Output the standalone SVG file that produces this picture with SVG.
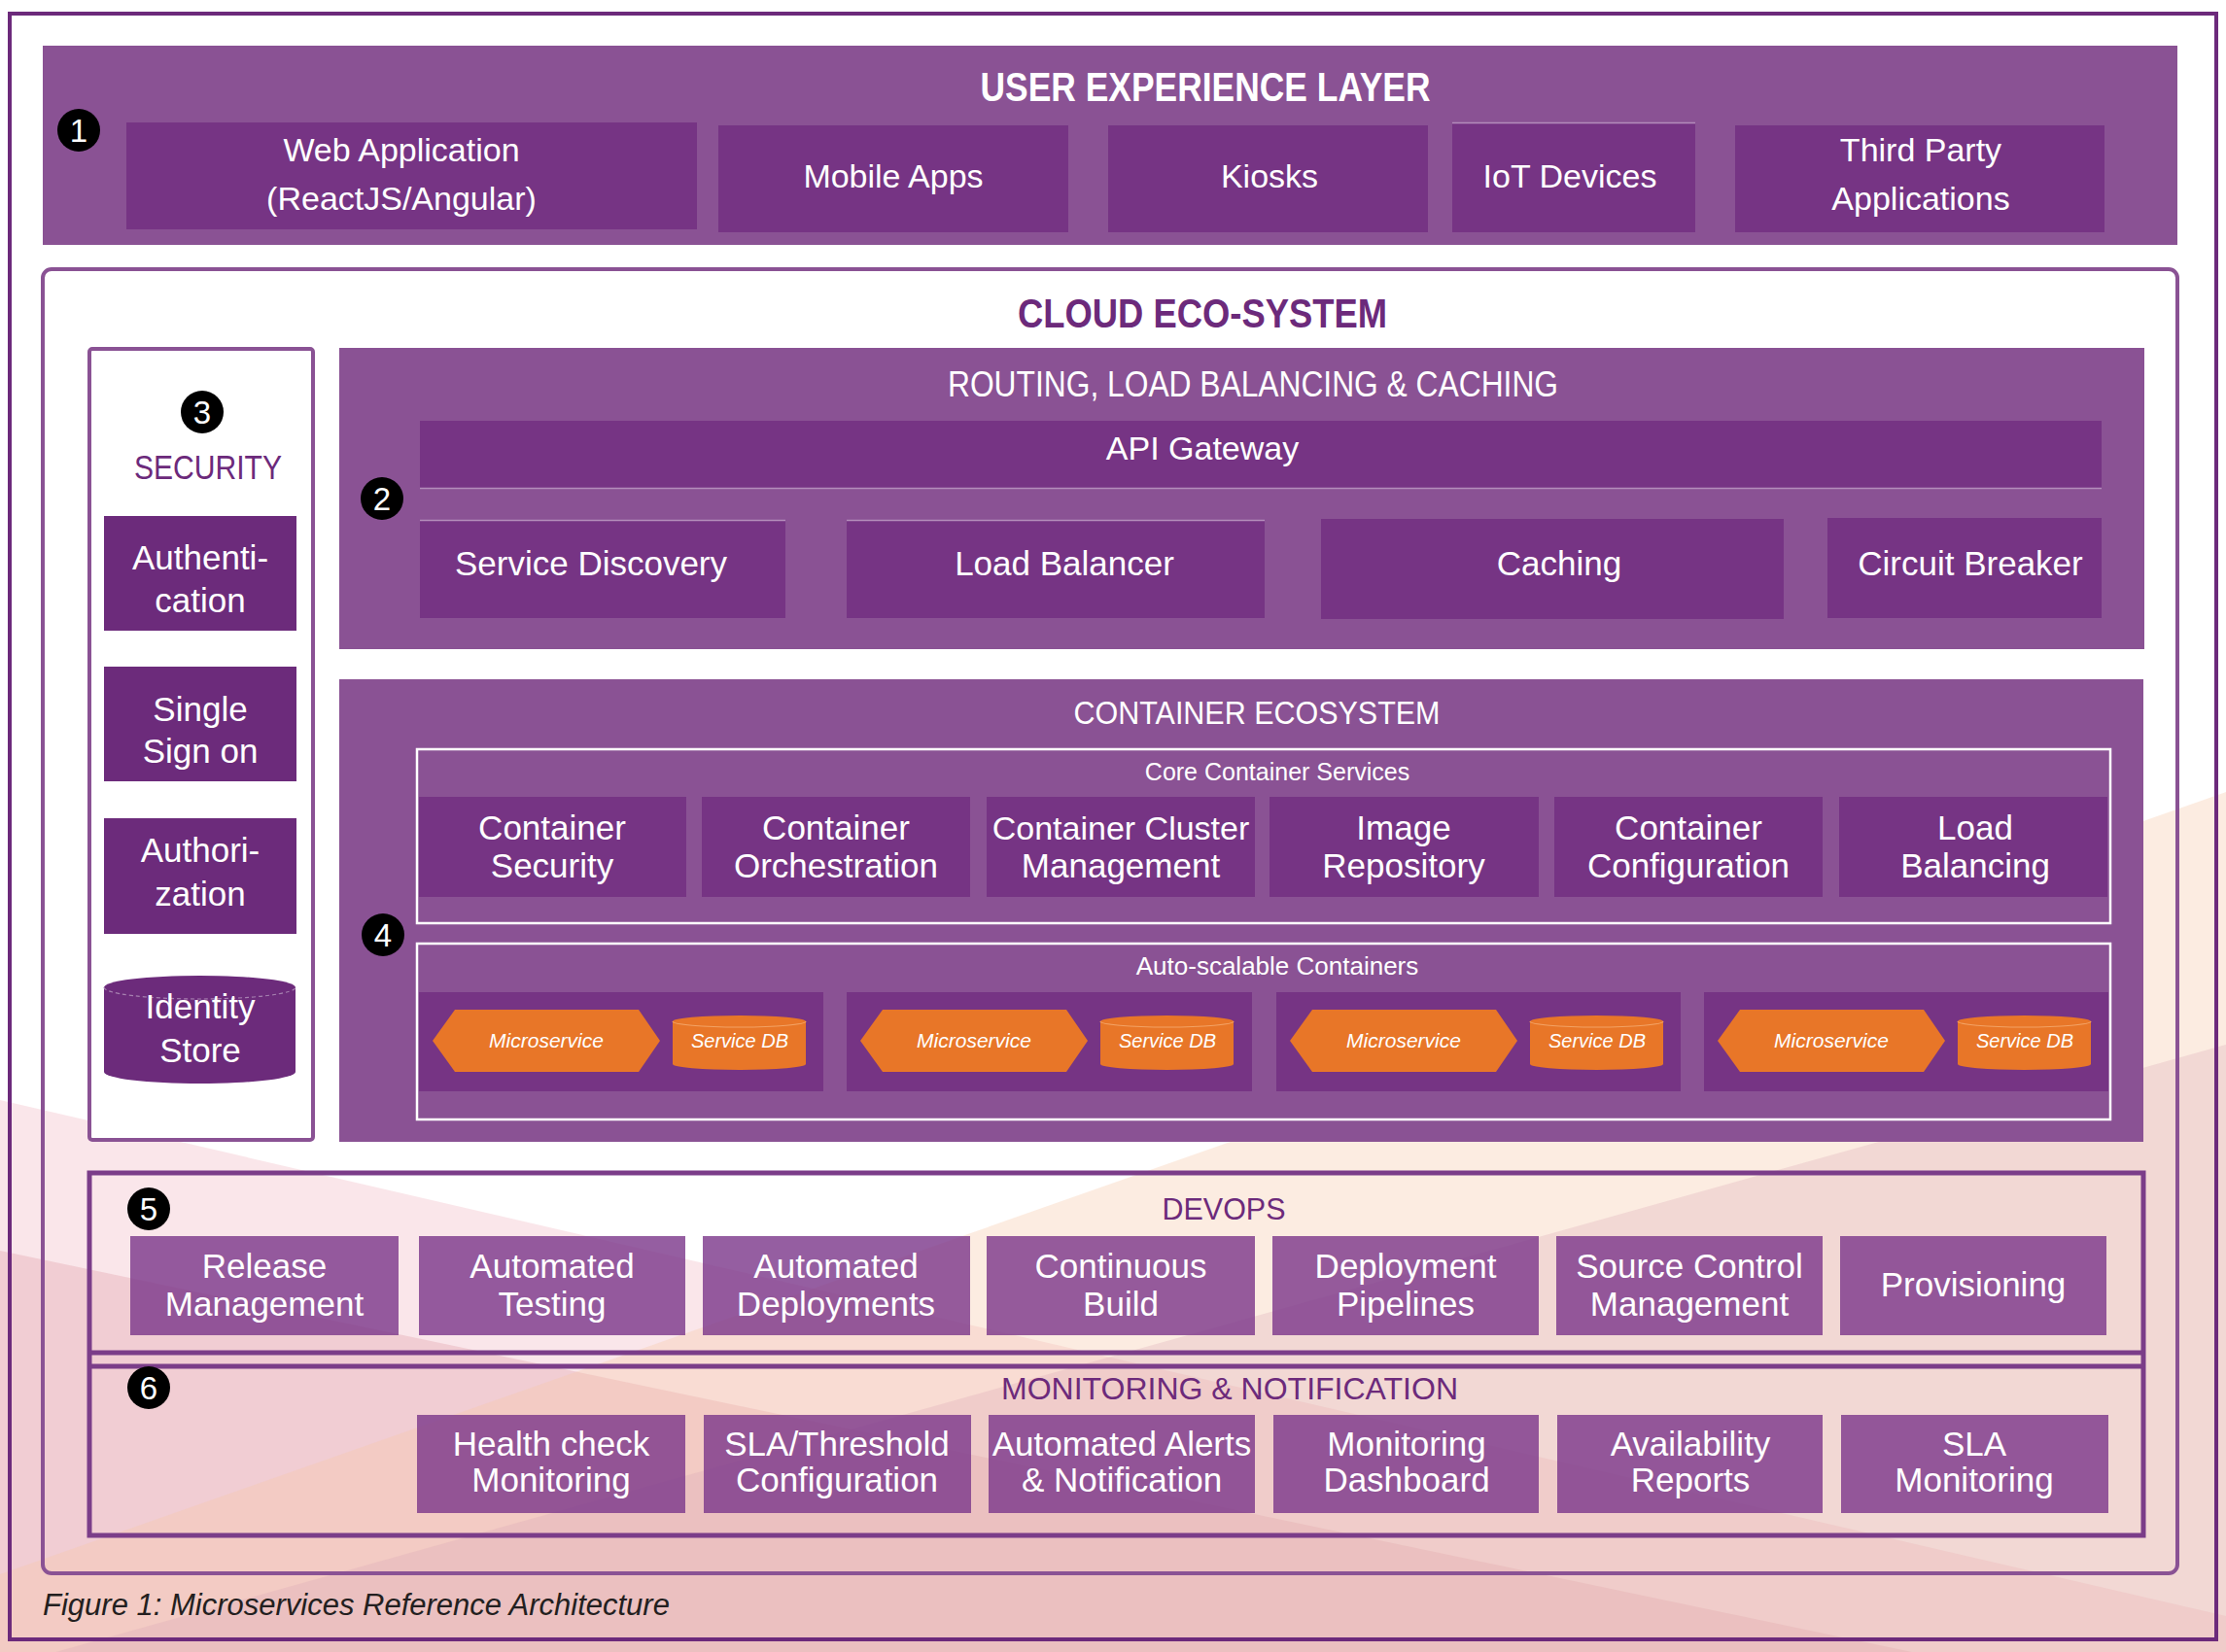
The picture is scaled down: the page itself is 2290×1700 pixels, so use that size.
<svg xmlns="http://www.w3.org/2000/svg" width="2290" height="1700" viewBox="0 0 2290 1700">
<defs>
<style>
.layer{fill:#8a5294}
.box{fill:#763484}
.sec{fill:#6c2b7b}
.dv{fill:#7b3689;fill-opacity:0.8}
.ms{fill:#e87628}
.frame{fill:none;stroke:#ffffff;stroke-width:2.5}
.t{font-family:"Liberation Sans",Arial,sans-serif;fill:#ffffff;text-anchor:middle}
.f34{font-size:34px}
.f35{font-size:35px}
.f36{font-size:36px}
.f25{font-size:25px}
.f26{font-size:26px}
.it{font-family:"Liberation Sans",Arial,sans-serif;font-style:italic;fill:#ffffff;text-anchor:middle}
.pt{font-family:"Liberation Sans",Arial,sans-serif;fill:#6c2a7b;text-anchor:middle}
.badge{fill:#000000}
.bn{font-family:"Liberation Sans",Arial,sans-serif;font-size:33px;fill:#ffffff;text-anchor:middle}
.edge{stroke:#b48dbb;stroke-width:1.5;fill:none}
</style>
</defs>

<!-- background decoration -->
<g id="background">
<rect x="0" y="0" width="2290" height="1700" fill="#ffffff"/>
<polygon points="0,1132 2290,1663 2290,1700 0,1700" fill="#f2b8c4" fill-opacity="0.35"/>
<polygon points="0,1287 1967,1700 0,1700" fill="#e3a7b1" fill-opacity="0.4"/>
<polygon points="2290,815 2290,1700 0,1700 0,1620" fill="#f5c9a8" fill-opacity="0.35"/>
<polygon points="2290,1075 2290,1700 0,1716" fill="#d9a9b6" fill-opacity="0.3"/>
</g>

<rect id="outer-frame" x="10" y="14" width="2270" height="1673" fill="none" stroke="#6c2a7b" stroke-width="4"/>

<!-- 1 USER EXPERIENCE LAYER -->
<g id="ux-layer">
<rect class="layer" x="44" y="47" width="2196" height="205"/>
<text class="t" x="1240" y="104" font-size="43" font-weight="bold" textLength="463" lengthAdjust="spacingAndGlyphs">USER EXPERIENCE LAYER</text>
<circle class="badge" cx="81" cy="134" r="22"/>
<text class="bn" x="81" y="146">1</text>
</g>
<g id="web-app">
<rect class="box" x="130" y="126" width="587" height="110"/>
<text class="t f34" x="413" y="166">Web Application</text>
<text class="t f34" x="413" y="216">(ReactJS/Angular)</text>
</g>
<g id="mobile-apps">
<rect class="box" x="739" y="129" width="360" height="110"/>
<text class="t f34" x="919" y="193">Mobile Apps</text>
</g>
<g id="kiosks">
<rect class="box" x="1140" y="129" width="329" height="110"/>
<text class="t f34" x="1306" y="193">Kiosks</text>
</g>
<g id="iot-devices">
<rect class="box" x="1494" y="126" width="250" height="113"/>
<line class="edge" x1="1494" y1="126.5" x2="1744" y2="126.5"/>
<text class="t f34" x="1615" y="193">IoT Devices</text>
</g>
<g id="third-party">
<rect class="box" x="1785" y="129" width="380" height="110"/>
<text class="t f34" x="1976" y="166">Third Party</text>
<text class="t f34" x="1976" y="216">Applications</text>
</g>

<!-- CLOUD ECO-SYSTEM -->
<g id="cloud-ecosystem">
<rect x="44" y="277" width="2196" height="1342" rx="9" fill="none" stroke="#8a5294" stroke-width="4"/>
<text class="pt" x="1237" y="337" font-size="42" font-weight="bold" textLength="380" lengthAdjust="spacingAndGlyphs">CLOUD ECO-SYSTEM</text>
</g>

<!-- 3 SECURITY -->
<g id="security">
<rect x="92" y="359" width="230" height="814" rx="3" fill="#ffffff" stroke="#8a5294" stroke-width="4"/>
<circle class="badge" cx="208" cy="424" r="22"/>
<text class="bn" x="208" y="436">3</text>
<text class="pt" x="214" y="493" font-size="35" textLength="152" lengthAdjust="spacingAndGlyphs">SECURITY</text>
</g>
<g id="authentication">
<rect class="sec" x="107" y="531" width="198" height="118"/>
<text class="t f35" x="206" y="586">Authenti-</text>
<text class="t f35" x="206" y="630">cation</text>
</g>
<g id="single-sign-on">
<rect class="sec" x="107" y="686" width="198" height="118"/>
<text class="t f35" x="206" y="742">Single</text>
<text class="t f35" x="206" y="785">Sign on</text>
</g>
<g id="authorization">
<rect class="sec" x="107" y="842" width="198" height="119"/>
<text class="t f35" x="206" y="887">Authori-</text>
<text class="t f35" x="206" y="932">zation</text>
</g>
<g id="identity-store">
<path class="sec" d="M107,1016 A98.5,12 0 0 1 304,1016 V1103 A98.5,12 0 0 1 107,1103 Z"/>
<path d="M107,1016 A98.5,12 0 0 0 304,1016" fill="none" stroke="#a680b0" stroke-width="1.2" stroke-dasharray="4,3"/>
<text class="t f35" x="206" y="1048">Identity</text>
<text class="t f35" x="206" y="1093">Store</text>
</g>

<!-- 2 ROUTING -->
<g id="routing">
<rect class="layer" x="349" y="358" width="1857" height="310"/>
<text class="t" x="1289" y="408" font-size="36" textLength="628" lengthAdjust="spacingAndGlyphs">ROUTING, LOAD BALANCING &amp; CACHING</text>
<circle class="badge" cx="393" cy="513" r="22"/>
<text class="bn" x="393" y="525">2</text>
</g>
<g id="api-gateway">
<rect class="box" x="432" y="433" width="1730" height="70"/>
<line class="edge" x1="432" y1="502.5" x2="2162" y2="502.5"/>
<text class="t f34" x="1237" y="473">API Gateway</text>
</g>
<g id="service-discovery">
<rect class="box" x="432" y="535" width="376" height="101"/>
<line class="edge" x1="432" y1="535.5" x2="808" y2="535.5"/>
<text class="t f35" x="608" y="592">Service Discovery</text>
</g>
<g id="load-balancer">
<rect class="box" x="871" y="535" width="430" height="101"/>
<line class="edge" x1="871" y1="535.5" x2="1301" y2="535.5"/>
<text class="t f35" x="1095" y="592">Load Balancer</text>
</g>
<g id="caching">
<rect class="box" x="1359" y="534" width="476" height="103"/>
<text class="t f35" x="1604" y="592">Caching</text>
</g>
<g id="circuit-breaker">
<rect class="box" x="1880" y="533" width="282" height="103"/>
<text class="t f35" x="2027" y="592">Circuit Breaker</text>
</g>

<!-- 4 CONTAINER ECOSYSTEM -->
<g id="container-ecosystem">
<rect class="layer" x="349" y="699" width="1856" height="476"/>
<text class="t" x="1293" y="745" font-size="34" textLength="377" lengthAdjust="spacingAndGlyphs">CONTAINER ECOSYSTEM</text>
<circle class="badge" cx="394" cy="962" r="22"/>
<text class="bn" x="394" y="974">4</text>
</g>
<g id="core-container-services">
<rect class="frame" x="429" y="771" width="1742" height="179"/>
<text class="t f25" x="1314" y="803">Core Container Services</text>
</g>
<g id="container-security">
<rect class="box" x="431" y="820" width="275" height="103"/>
<text class="t f35" x="568" y="864">Container</text>
<text class="t f35" x="568" y="903">Security</text>
</g>
<g id="container-orchestration">
<rect class="box" x="722" y="820" width="276" height="103"/>
<text class="t f35" x="860" y="864">Container</text>
<text class="t f35" x="860" y="903">Orchestration</text>
</g>
<g id="container-cluster-management">
<rect class="box" x="1015" y="820" width="276" height="103"/>
<text class="t f34" x="1153" y="864">Container Cluster</text>
<text class="t f35" x="1153" y="903">Management</text>
</g>
<g id="image-repository">
<rect class="box" x="1306" y="820" width="277" height="103"/>
<text class="t f35" x="1444" y="864">Image</text>
<text class="t f35" x="1444" y="903">Repository</text>
</g>
<g id="container-configuration">
<rect class="box" x="1599" y="820" width="276" height="103"/>
<text class="t f35" x="1737" y="864">Container</text>
<text class="t f35" x="1737" y="903">Configuration</text>
</g>
<g id="load-balancing">
<rect class="box" x="1892" y="820" width="276" height="103"/>
<text class="t f35" x="2032" y="864">Load</text>
<text class="t f35" x="2032" y="903">Balancing</text>
</g>

<g id="auto-scalable-containers">
<rect class="frame" x="429" y="971" width="1742" height="181"/>
<text class="t f26" x="1314" y="1003">Auto-scalable Containers</text>
</g>
<g id="container-1">
<rect class="box" x="431" y="1021" width="416" height="102"/>
<polygon class="ms" points="445,1071 468,1039 657,1039 679,1071 657,1103 468,1103"/>
<text class="it" x="562" y="1078" font-size="21">Microservice</text>
<path class="ms" d="M692,1051 A68.5,6 0 0 1 829,1051 V1095 A68.5,6 0 0 1 692,1095 Z"/>
<path d="M692,1051 A68.5,6 0 0 0 829,1051" fill="none" stroke="#f3a264" stroke-width="1.2"/>
<text class="it" x="761" y="1078" font-size="20">Service DB</text>
</g>
<g id="container-2">
<rect class="box" x="871" y="1021" width="417" height="102"/>
<polygon class="ms" points="885,1071 908,1039 1097,1039 1119,1071 1097,1103 908,1103"/>
<text class="it" x="1002" y="1078" font-size="21">Microservice</text>
<path class="ms" d="M1132,1051 A68.5,6 0 0 1 1269,1051 V1095 A68.5,6 0 0 1 1132,1095 Z"/>
<path d="M1132,1051 A68.5,6 0 0 0 1269,1051" fill="none" stroke="#f3a264" stroke-width="1.2"/>
<text class="it" x="1201" y="1078" font-size="20">Service DB</text>
</g>
<g id="container-3">
<rect class="box" x="1313" y="1021" width="416" height="102"/>
<polygon class="ms" points="1327,1071 1350,1039 1539,1039 1561,1071 1539,1103 1350,1103"/>
<text class="it" x="1444" y="1078" font-size="21">Microservice</text>
<path class="ms" d="M1574,1051 A68.5,6 0 0 1 1711,1051 V1095 A68.5,6 0 0 1 1574,1095 Z"/>
<path d="M1574,1051 A68.5,6 0 0 0 1711,1051" fill="none" stroke="#f3a264" stroke-width="1.2"/>
<text class="it" x="1643" y="1078" font-size="20">Service DB</text>
</g>
<g id="container-4">
<rect class="box" x="1753" y="1021" width="416" height="102"/>
<polygon class="ms" points="1767,1071 1790,1039 1979,1039 2001,1071 1979,1103 1790,1103"/>
<text class="it" x="1884" y="1078" font-size="21">Microservice</text>
<path class="ms" d="M2014,1051 A68.5,6 0 0 1 2151,1051 V1095 A68.5,6 0 0 1 2014,1095 Z"/>
<path d="M2014,1051 A68.5,6 0 0 0 2151,1051" fill="none" stroke="#f3a264" stroke-width="1.2"/>
<text class="it" x="2083" y="1078" font-size="20">Service DB</text>
</g>

<!-- 5 DEVOPS & 6 MONITORING frame -->
<g id="devops-monitoring-frame">
<rect x="92" y="1207" width="2113" height="373" fill="none" stroke="#7b3d89" stroke-width="5"/>
<line x1="92" y1="1392" x2="2205" y2="1392" stroke="#7b3d89" stroke-width="5"/>
<line x1="92" y1="1406" x2="2205" y2="1406" stroke="#7b3d89" stroke-width="5"/>
</g>
<g id="devops">
<text class="pt" x="1259" y="1255" font-size="32" textLength="127" lengthAdjust="spacingAndGlyphs">DEVOPS</text>
<circle class="badge" cx="153" cy="1244" r="22"/>
<text class="bn" x="153" y="1256">5</text>
</g>
<g id="release-management">
<rect class="dv" x="134" y="1272" width="276" height="102"/>
<text class="t f35" x="272" y="1315">Release</text>
<text class="t f35" x="272" y="1354">Management</text>
</g>
<g id="automated-testing">
<rect class="dv" x="431" y="1272" width="274" height="102"/>
<text class="t f35" x="568" y="1315">Automated</text>
<text class="t f35" x="568" y="1354">Testing</text>
</g>
<g id="automated-deployments">
<rect class="dv" x="723" y="1272" width="275" height="102"/>
<text class="t f35" x="860" y="1315">Automated</text>
<text class="t f35" x="860" y="1354">Deployments</text>
</g>
<g id="continuous-build">
<rect class="dv" x="1015" y="1272" width="276" height="102"/>
<text class="t f35" x="1153" y="1315">Continuous</text>
<text class="t f35" x="1153" y="1354">Build</text>
</g>
<g id="deployment-pipelines">
<rect class="dv" x="1309" y="1272" width="274" height="102"/>
<text class="t f35" x="1446" y="1315">Deployment</text>
<text class="t f35" x="1446" y="1354">Pipelines</text>
</g>
<g id="source-control-management">
<rect class="dv" x="1601" y="1272" width="274" height="102"/>
<text class="t f35" x="1738" y="1315">Source Control</text>
<text class="t f35" x="1738" y="1354">Management</text>
</g>
<g id="provisioning">
<rect class="dv" x="1893" y="1272" width="274" height="102"/>
<text class="t f35" x="2030" y="1334">Provisioning</text>
</g>

<g id="monitoring">
<text class="pt" x="1265" y="1440" font-size="32" textLength="470" lengthAdjust="spacingAndGlyphs">MONITORING &amp; NOTIFICATION</text>
<circle class="badge" cx="153" cy="1428" r="22"/>
<text class="bn" x="153" y="1440">6</text>
</g>
<g id="health-check-monitoring">
<rect class="dv" x="429" y="1456" width="276" height="101"/>
<text class="t f35" x="567" y="1498">Health check</text>
<text class="t f35" x="567" y="1535">Monitoring</text>
</g>
<g id="sla-threshold-configuration">
<rect class="dv" x="724" y="1456" width="275" height="101"/>
<text class="t f35" x="861" y="1498">SLA/Threshold</text>
<text class="t f35" x="861" y="1535">Configuration</text>
</g>
<g id="automated-alerts">
<rect class="dv" x="1017" y="1456" width="274" height="101"/>
<text class="t f35" x="1154" y="1498">Automated Alerts</text>
<text class="t f35" x="1154" y="1535">&amp; Notification</text>
</g>
<g id="monitoring-dashboard">
<rect class="dv" x="1310" y="1456" width="273" height="101"/>
<text class="t f35" x="1447" y="1498">Monitoring</text>
<text class="t f35" x="1447" y="1535">Dashboard</text>
</g>
<g id="availability-reports">
<rect class="dv" x="1602" y="1456" width="273" height="101"/>
<text class="t f35" x="1739" y="1498">Availability</text>
<text class="t f35" x="1739" y="1535">Reports</text>
</g>
<g id="sla-monitoring">
<rect class="dv" x="1894" y="1456" width="275" height="101"/>
<text class="t f35" x="2031" y="1498">SLA</text>
<text class="t f35" x="2031" y="1535">Monitoring</text>
</g>

<g id="connectors"></g>

<text id="caption" x="44" y="1662" font-family="'Liberation Sans',Arial,sans-serif" font-style="italic" font-size="31" fill="#231f20">Figure 1: Microservices Reference Architecture</text>
</svg>
